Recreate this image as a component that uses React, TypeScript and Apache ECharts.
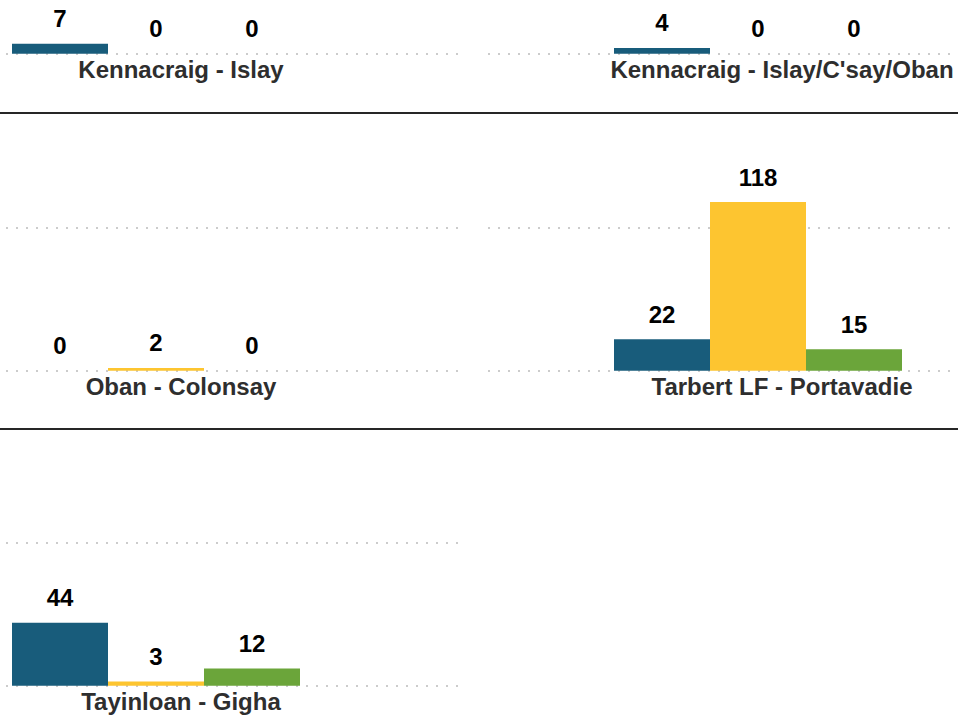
import React, { useEffect, useRef } from "react";
import * as echarts from "echarts";

// ---- data ----
const routes = [
  "Kennacraig - Islay",
  "Kennacraig - Islay/C'say/Oban",
  "Oban - Colonsay",
  "Tarbert LF - Portavadie",
  "Tayinloan - Gigha",
];
const blueValues = [7, 4, 0, 22, 44];
const yellowValues = [0, 0, 2, 118, 3];
const greenValues = [0, 0, 0, 15, 12];
const barSlots = ["blue", "yellow", "green"];
const yMin = 0;
const yMax = 150;
const yInterval = 100;

// ---- style / layout ----
const COLORS = ["#185C7B", "#FDC530", "#6BA53A"];
const FONT = '"Liberation Sans", Arial, Helvetica, sans-serif';
const OFFSET = 170; // the view starts part way down the chart
const rowBaselines = [53.7, 370.8, 685.7];
const separatorYs = [113, 429];
const PX_PER_UNIT = 1.43;
const BAND = 96;
const columns = [
  { lineLeft: 6, lineWidth: 454, barLeft: 12, labelX: 181 },
  { lineLeft: 488, lineWidth: 480, barLeft: 614, labelX: 782 },
];

export default function App() {
  const ref = useRef<HTMLDivElement>(null);
  useEffect(() => {
    if (!ref.current) return;
    const chart = echarts.init(ref.current, undefined, { renderer: "svg" });
    const grid: any[] = [];
    const xAxis: any[] = [];
    const yAxis: any[] = [];
    const series: any[] = [];
    const graphic: any[] = [];
    const h = PX_PER_UNIT * (yMax - yMin);

    routes.forEach((route, i) => {
      const col = columns[i % 2];
      const base = rowBaselines[Math.floor(i / 2)] + OFFSET;
      const top = base - h;
      // wide grid carrying the dotted reference lines
      grid.push({ left: col.lineLeft, top, width: col.lineWidth, height: h });
      xAxis.push({ gridIndex: 2 * i, type: "category", data: [route], show: false });
      yAxis.push({
        gridIndex: 2 * i,
        type: "value",
        min: yMin,
        max: yMax,
        interval: yInterval,
        axisLine: { show: false },
        axisTick: { show: false },
        axisLabel: { show: false },
        splitLine: {
          show: true,
          showMaxLine: false,
          lineStyle: { color: "#cccccc", width: 2, type: [2, 8] },
        },
      });
      // narrow grid carrying the bars
      grid.push({ left: col.barLeft, top, width: BAND * barSlots.length, height: h });
      xAxis.push({ gridIndex: 2 * i + 1, type: "category", data: barSlots, show: false });
      yAxis.push({
        gridIndex: 2 * i + 1,
        type: "value",
        min: yMin,
        max: yMax,
        show: false,
        splitLine: { show: false },
      });
      const vals = [blueValues[i], yellowValues[i], greenValues[i]];
      series.push({
        type: "bar",
        name: route,
        xAxisIndex: 2 * i + 1,
        yAxisIndex: 2 * i + 1,
        barCategoryGap: "0%",
        data: vals.map((v, k) => ({ value: v, itemStyle: { color: COLORS[k] } })),
        label: {
          show: true,
          position: "top",
          distance: 13,
          color: "#000",
          fontSize: 24,
          fontWeight: "bold",
          fontFamily: FONT,
        },
      });
      graphic.push({
        type: "text",
        x: col.labelX,
        y: base + 15.3,
        style: {
          text: route,
          fill: "#2e2e2e",
          font: `bold 24px ${FONT}`,
          align: "center",
          verticalAlign: "middle",
          textAlign: "center",
          textVerticalAlign: "middle",
        },
      });
    });

    separatorYs.forEach((y) => {
      graphic.push({
        type: "line",
        shape: { x1: 0, y1: y + OFFSET, x2: 958, y2: y + OFFSET },
        style: { stroke: "#262626", lineWidth: 2 },
      });
    });

    chart.setOption({
      animation: false,
      backgroundColor: "#ffffff",
      grid,
      xAxis,
      yAxis,
      series,
      graphic,
    });
    return () => chart.dispose();
  }, []);
  return (
    <div
      ref={ref}
      style={{
        position: "absolute",
        left: 0,
        top: -OFFSET,
        width: 958,
        height: 716 + OFFSET,
      }}
    />
  );
}
